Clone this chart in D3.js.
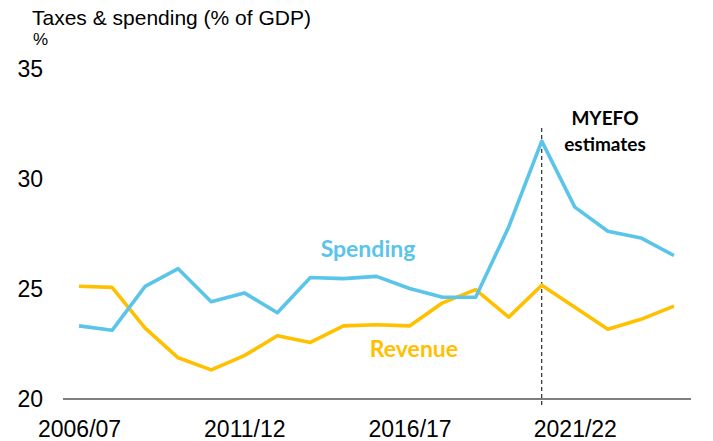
<!DOCTYPE html>
<html>
<head>
<meta charset="utf-8">
<script src="https://cdn.jsdelivr.net/npm/d3@7"></script>
<style>
  body { margin: 0; background: #fff; }
  svg text { font-family: "Liberation Sans", Arial, sans-serif; }
  svg text.lbl { font-family: Lato, "Open Sans", sans-serif; font-weight: bold; }
</style>
</head>
<body>
<div id="chart"></div>
<script>
var width = 713;
var height = 441;

var years = ["2006/07","2007/08","2008/09","2009/10","2010/11","2011/12","2012/13",
  "2013/14","2014/15","2015/16","2016/17","2017/18","2018/19","2019/20","2020/21",
  "2021/22","2022/23","2023/24","2024/25"];
var spending = [23.3, 23.1, 25.1, 25.9, 24.4, 24.8, 23.9, 25.5, 25.45, 25.55, 25.0,
  24.6, 24.6, 27.8, 31.7, 28.7, 27.6, 27.3, 26.5];
var revenue = [25.1, 25.05, 23.2, 21.85, 21.3, 21.95, 22.85, 22.55, 23.3, 23.35, 23.3,
  24.35, 24.95, 23.7, 25.15, 24.15, 23.15, 23.6, 24.2];
var yTicks = [20, 25, 30, 35];
var xTickLabels = ["2006/07", "2011/12", "2016/17", "2021/22"];
var estimatesStart = "2020/21";

var blue = "#5bc4e9";
var gold = "#ffc000";

var svg = d3.select("#chart")
  .append("svg")
    .attr("width", width)
    .attr("height", height);

var x = d3.scalePoint()
  .domain(years)
  .range([62.5, 690.5])
  .padding(0.5);

var y = d3.scaleLinear()
  .domain([20, 35])
  .range([398.5, 68.5]);

// title
svg.append("text")
  .attr("x", 32).attr("y", 25)
  .style("font-size", "21px")
  .text("Taxes & spending (% of GDP)");
svg.append("text")
  .attr("x", 33).attr("y", 45)
  .style("font-size", "17px")
  .text("%");

// y labels
var yAxis = d3.axisLeft(y).tickValues(yTicks).tickSize(0).tickPadding(0);
var gy = svg.append("g")
  .attr("transform", "translate(43,0)")
  .call(yAxis);
gy.select(".domain").remove();
gy.selectAll("text")
  .style("font-size", "23px")
  .style("font-family", "'Liberation Sans', Arial, sans-serif")
  .attr("fill", "#000")
  .attr("dy", "0.35em");

// x axis
var xAxis = d3.axisBottom(x).tickValues(xTickLabels).tickSize(0).tickPadding(0);
var gx = svg.append("g")
  .attr("transform", "translate(0," + y(20) + ")")
  .call(xAxis);
gx.select(".domain")
  .attr("stroke", "#000")
  .attr("stroke-width", 1.2);
gx.selectAll("text")
  .style("font-size", "23px")
  .style("font-family", "'Liberation Sans', Arial, sans-serif")
  .attr("fill", "#000")
  .attr("dy", null)
  .attr("y", 38);

// dashed divider
svg.append("line")
  .attr("x1", x(estimatesStart)).attr("x2", x(estimatesStart))
  .attr("y1", 128).attr("y2", 406)
  .attr("stroke", "#000")
  .attr("stroke-width", 1)
  .attr("stroke-dasharray", "4,3");

var line = d3.line()
  .x(function(d, i){ return x(years[i]); })
  .y(function(d){ return y(d); });

svg.append("path")
  .datum(revenue)
  .attr("d", line)
  .attr("fill", "none")
  .attr("stroke", gold)
  .attr("stroke-width", 3.6)
  .attr("stroke-linejoin", "round");

svg.append("path")
  .datum(spending)
  .attr("d", line)
  .attr("fill", "none")
  .attr("stroke", blue)
  .attr("stroke-width", 3.6)
  .attr("stroke-linejoin", "round");

// series labels
svg.append("text")
  .attr("class", "lbl")
  .attr("x", 368).attr("y", 257)
  .attr("text-anchor", "middle")
  .style("font-size", "23px")
  .attr("fill", blue)
  .text("Spending");
svg.append("text")
  .attr("class", "lbl")
  .attr("x", 414).attr("y", 357)
  .attr("text-anchor", "middle")
  .style("font-size", "23px")
  .attr("fill", gold)
  .text("Revenue");

// annotation
svg.append("text")
  .attr("class", "lbl")
  .attr("x", 605).attr("y", 125)
  .attr("text-anchor", "middle")
  .style("font-size", "19px")
  .attr("fill", "#000")
  .text("MYEFO");
svg.append("text")
  .attr("class", "lbl")
  .attr("x", 605).attr("y", 151)
  .attr("text-anchor", "middle")
  .style("font-size", "19px")
  .attr("fill", "#000")
  .text("estimates");
</script>
</body>
</html>
